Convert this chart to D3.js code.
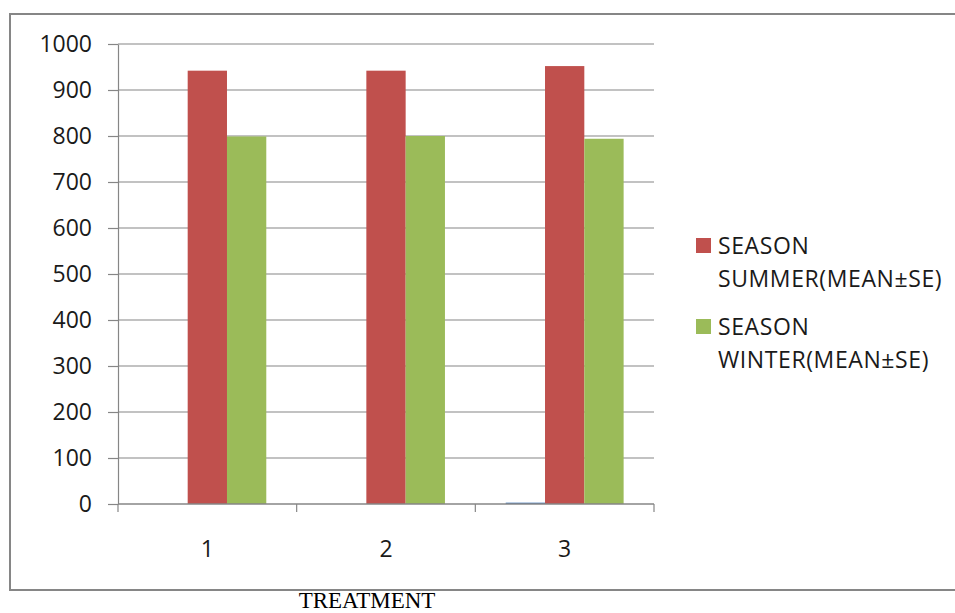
<!DOCTYPE html>
<html>
<head>
<meta charset="utf-8">
<script src="https://cdn.jsdelivr.net/npm/d3@7"></script>
<style>
  html, body { margin: 0; padding: 0; background: #fff; }
  svg { display: block; }
</style>
</head>
<body>
<svg id="chart" width="955" height="613"></svg>
<script>
// Treatment groups and series means
const categories = ["1", "2", "3"];
const seriesNames = ["", "SEASON SUMMER(MEAN±SE)", "SEASON WINTER(MEAN±SE)"];
const baseValues = [0, 0, 3];
const summerValues = [942, 942, 952];
const winterValues = [799, 800, 794];
const yTicks = [0, 100, 200, 300, 400, 500, 600, 700, 800, 900, 1000];
const legendLines = [["SEASON", "SUMMER(MEAN±SE)"], ["SEASON", "WINTER(MEAN±SE)"]];
const xTitle = "TREATMENT";

const colors = ["#4F81BD", "#C0504D", "#9BBB59"];
const seriesValues = [baseValues, summerValues, winterValues];

const svg = d3.select("#chart");
const plot = { left: 118, right: 654, top: 44, bottom: 504 };
const gray = "#868686";
const font = "'Open Sans', 'Noto Sans', sans-serif";

// Chart frame
svg.append("rect")
  .attr("x", 10).attr("y", 14)
  .attr("width", 960).attr("height", 576)
  .attr("fill", "none").attr("stroke", gray).attr("stroke-width", 2);

const y = d3.scaleLinear().domain([0, 1000]).range([plot.bottom, plot.top]);
const x = d3.scaleBand().domain(categories).range([plot.left, plot.right]).padding(0);
const x1 = d3.scaleBand().domain(d3.range(seriesNames.length))
  .range([0, x.bandwidth()]).paddingInner(0).paddingOuter(0.773);

// Horizontal gridlines
svg.append("g").selectAll("line")
  .data(yTicks.filter(t => t > 0))
  .join("line")
  .attr("x1", plot.left).attr("x2", plot.right)
  .attr("y1", d => y(d)).attr("y2", d => y(d))
  .attr("stroke", gray).attr("stroke-width", 1.2);

// Bars
const rows = categories.map((c, i) => ({ c, vals: seriesValues.map(s => s[i]) }));
svg.append("g").selectAll("g")
  .data(rows)
  .join("g")
  .attr("transform", d => `translate(${x(d.c)},0)`)
  .selectAll("rect")
  .data(d => d.vals.map((v, k) => ({ v, k })))
  .join("rect")
  .attr("x", d => x1(d.k))
  .attr("width", x1.bandwidth())
  .attr("y", d => y(d.v))
  .attr("height", d => y(0) - y(d.v))
  .attr("fill", d => colors[d.k]);

// Y axis
const yAxis = svg.append("g")
  .attr("transform", `translate(${plot.left},0)`)
  .call(d3.axisLeft(y).tickValues(yTicks).tickFormat(d3.format("d"))
    .tickSize(10).tickPadding(16).tickSizeOuter(0));
yAxis.select(".domain").attr("stroke", gray).attr("stroke-width", 1.2);
yAxis.selectAll(".tick line").attr("stroke", gray).attr("stroke-width", 1.2);
yAxis.selectAll(".tick text")
  .attr("font-family", font).attr("font-size", 23).attr("fill", "#1a1a1a");

// X axis: baseline, category boundary ticks, labels
const xAxis = svg.append("g");
xAxis.append("line")
  .attr("x1", plot.left).attr("x2", plot.right)
  .attr("y1", y(0)).attr("y2", y(0))
  .attr("stroke", gray).attr("stroke-width", 1.5);
const bounds = categories.map(c => x(c)).concat([x(categories[categories.length - 1]) + x.bandwidth()]);
xAxis.selectAll(".bound")
  .data(bounds)
  .join("line")
  .attr("class", "bound")
  .attr("x1", d => d).attr("x2", d => d)
  .attr("y1", y(0)).attr("y2", y(0) + 8)
  .attr("stroke", gray).attr("stroke-width", 1.2);
xAxis.selectAll(".lbl")
  .data(categories)
  .join("text")
  .attr("class", "lbl")
  .attr("x", d => x(d) + x.bandwidth() / 2)
  .attr("y", 557)
  .attr("text-anchor", "middle")
  .attr("font-family", font).attr("font-size", 23).attr("fill", "#1a1a1a")
  .text(d => d);

// Legend (the first series has no entry)
const legend = svg.append("g");
legendLines.forEach((lines, i) => {
  const gy = 238 + i * 81;
  legend.append("rect")
    .attr("x", 696).attr("y", gy)
    .attr("width", 15).attr("height", 15)
    .attr("fill", colors[i + 1]);
  const t = legend.append("text")
    .attr("font-family", font).attr("font-size", 23)
    .attr("letter-spacing", 0.6).attr("fill", "#1a1a1a");
  lines.forEach((ln, j) => {
    t.append("tspan").attr("x", 718).attr("y", gy + 16 + j * 33).text(ln);
  });
});

// Axis title
svg.append("text")
  .attr("x", 367).attr("y", 608)
  .attr("text-anchor", "middle")
  .attr("font-family", "'Liberation Serif', 'Times New Roman', serif")
  .attr("font-size", 23).attr("fill", "#000")
  .text(xTitle);
</script>
</body>
</html>
